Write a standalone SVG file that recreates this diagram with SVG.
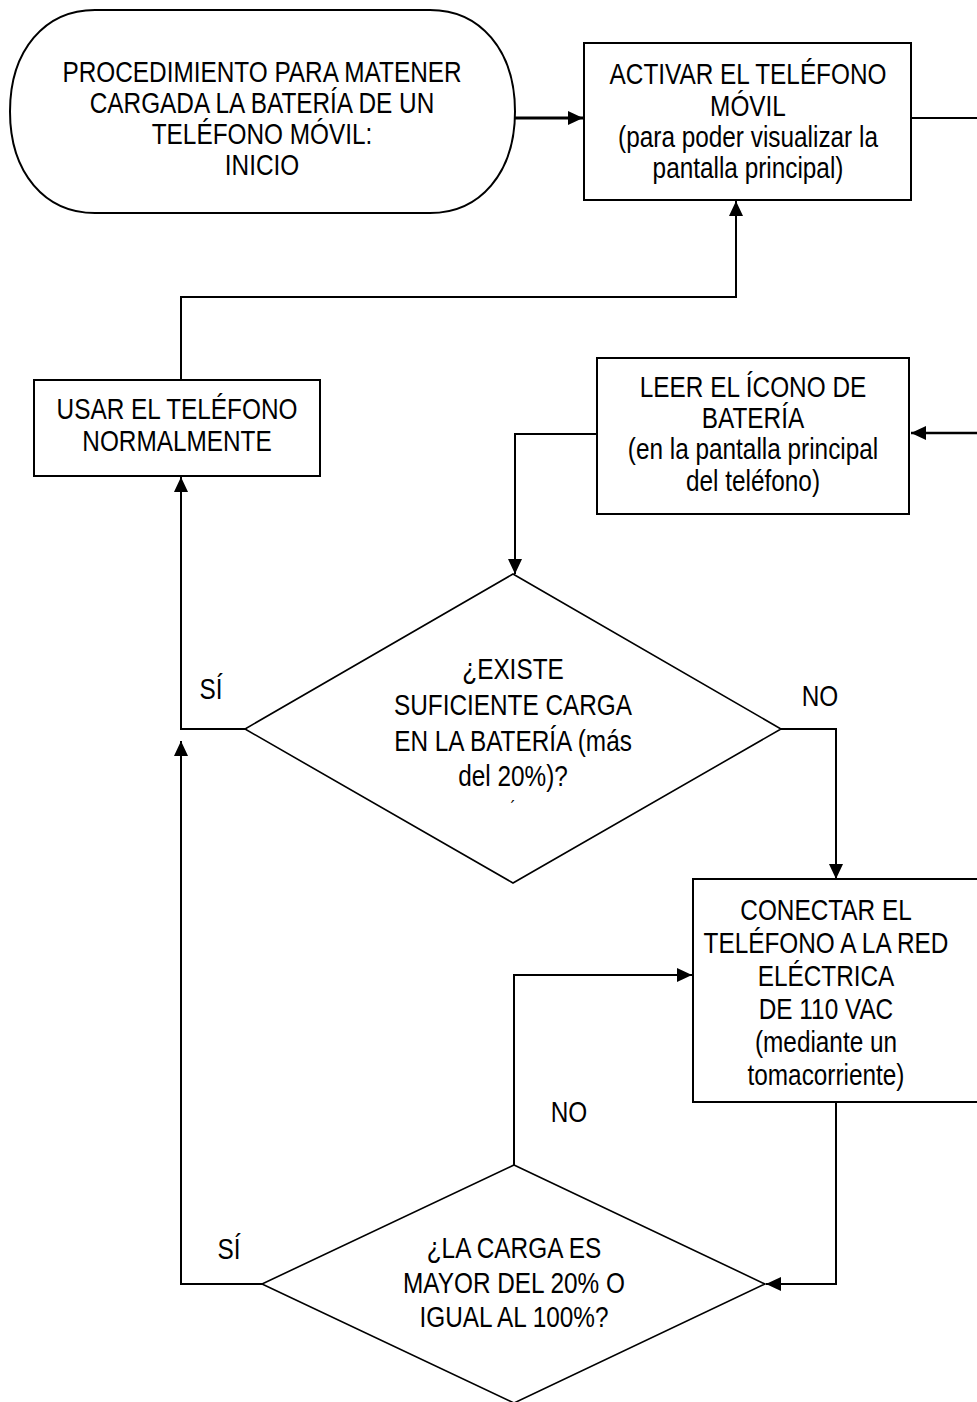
<svg xmlns="http://www.w3.org/2000/svg" width="977" height="1402" viewBox="0 0 977 1402">
<style>
.shape{fill:#fff;stroke:#000;stroke-width:2}
.dia{fill:#fff;stroke:#000;stroke-width:1.6}
.conn{fill:none;stroke:#000;stroke-width:2}
text{font-family:"Liberation Sans","Arial",sans-serif;font-size:29px;fill:#000;text-anchor:middle}
</style>
<defs>
<marker id="arr" viewBox="0 0 15 14" refX="15" refY="7" markerWidth="15" markerHeight="14" markerUnits="userSpaceOnUse" orient="auto">
<path d="M0,0 L15,7 L0,14 Z" fill="#000"/>
</marker>
</defs>
<rect width="977" height="1402" fill="#fff"/>
<g id="connectors">
<path class="conn" d="M515,118 H583" style="stroke-width:3" marker-end="url(#arr)"/>
<path class="conn" d="M911,118 H977"/>
<path class="conn" d="M977,433 H911" style="stroke-width:2.5" marker-end="url(#arr)"/>
<path class="conn" d="M597,434 H515 V574" marker-end="url(#arr)"/>
<path class="conn" d="M781,729 H836 V879" marker-end="url(#arr)"/>
<path class="conn" d="M245,729 H181 V477" marker-end="url(#arr)"/>
<path class="conn" d="M181,380 V297 H736 V201" marker-end="url(#arr)"/>
<path class="conn" d="M836,1102 V1284 H766" marker-end="url(#arr)"/>
<path class="conn" d="M514,1165 V975 H692" marker-end="url(#arr)"/>
<path class="conn" d="M262,1284 H181 V741" marker-end="url(#arr)"/>
</g>
<g id="start">
<path class="shape" d="M95,10 H430 C480,10 515,50 515,111.5 C515,173 480,213 430,213 H95 C45,213 10,173 10,111.5 C10,50 45,10 95,10 Z"/>
<text transform="translate(262,82) scale(0.84,1)">PROCEDIMIENTO PARA MATENER</text>
<text transform="translate(262,113) scale(0.84,1)">CARGADA LA BATERÍA DE UN</text>
<text transform="translate(262,144) scale(0.84,1)">TELÉFONO MÓVIL:</text>
<text transform="translate(262,175) scale(0.84,1)">INICIO</text>
</g>
<g id="activar">
<rect class="shape" x="584" y="43" width="327" height="157"/>
<text transform="translate(748,84) scale(0.84,1)">ACTIVAR EL TELÉFONO</text>
<text transform="translate(748,116) scale(0.84,1)">MÓVIL</text>
<text transform="translate(748,147) scale(0.84,1)">(para poder visualizar la</text>
<text transform="translate(748,178) scale(0.84,1)">pantalla principal)</text>
</g>
<g id="usar">
<rect class="shape" x="34" y="380" width="286" height="96"/>
<text transform="translate(177,419) scale(0.84,1)">USAR EL TELÉFONO</text>
<text transform="translate(177,451) scale(0.84,1)">NORMALMENTE</text>
</g>
<g id="leer">
<rect class="shape" x="597" y="358" width="312" height="156"/>
<text transform="translate(753,397) scale(0.84,1)">LEER EL ÍCONO DE</text>
<text transform="translate(753,428) scale(0.84,1)">BATERÍA</text>
<text transform="translate(753,459) scale(0.84,1)">(en la pantalla principal</text>
<text transform="translate(753,491) scale(0.84,1)">del teléfono)</text>
</g>
<g id="decision1">
<polygon class="dia" points="513,574 781,729 513,883 245,729"/>
<text transform="translate(513,679) scale(0.84,1)">¿EXISTE</text>
<text transform="translate(513,715) scale(0.84,1)">SUFICIENTE CARGA</text>
<text transform="translate(513,751) scale(0.84,1)">EN LA BATERÍA (más</text>
<text transform="translate(513,786) scale(0.84,1)">del 20%)?</text>
<text transform="translate(513,814) scale(0.84,1)" style="font-size:18px">´</text>
</g>
<g id="label-si1"><text transform="translate(211,699) scale(0.84,1)">SÍ</text></g>
<g id="label-no1"><text transform="translate(820,706) scale(0.84,1)">NO</text></g>
<g id="conectar">
<path class="shape" d="M985,879 H693 V1102 H985"/>
<text transform="translate(826,920) scale(0.84,1)">CONECTAR EL</text>
<text transform="translate(826,953) scale(0.84,1)">TELÉFONO A LA RED</text>
<text transform="translate(826,986) scale(0.84,1)">ELÉCTRICA</text>
<text transform="translate(826,1019) scale(0.84,1)">DE 110 VAC</text>
<text transform="translate(826,1052) scale(0.84,1)">(mediante un</text>
<text transform="translate(826,1085) scale(0.84,1)">tomacorriente)</text>
</g>
<g id="label-no2"><text transform="translate(569,1122) scale(0.84,1)">NO</text></g>
<g id="label-si2"><text transform="translate(229,1259) scale(0.84,1)">SÍ</text></g>
<g id="decision2">
<polygon class="dia" points="514,1165 765,1284 514,1403 262,1284"/>
<text transform="translate(514,1258) scale(0.84,1)">¿LA CARGA ES</text>
<text transform="translate(514,1293) scale(0.84,1)">MAYOR DEL 20% O</text>
<text transform="translate(514,1327) scale(0.84,1)">IGUAL AL 100%?</text>
</g>
</svg>
